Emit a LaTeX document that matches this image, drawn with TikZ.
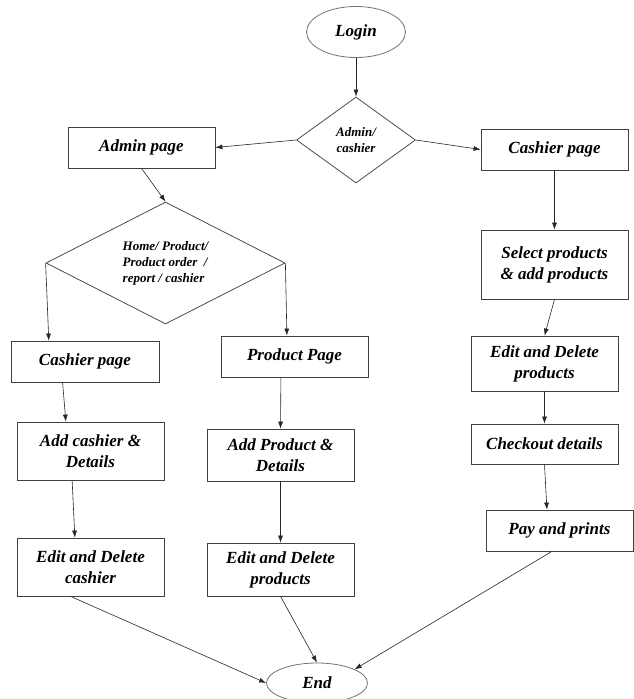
\documentclass[tikz,border=0pt]{standalone}
\usepackage{fontspec}
\setmainfont{Liberation Serif}
\usetikzlibrary{shapes.geometric,arrows.meta}

\begin{document}
\begin{tikzpicture}[x=1pt, y=-1pt,
    box/.style={rectangle, draw=black!75, line width=0.8pt, minimum width=147pt, inner sep=0pt, align=center, font=\fontsize{17}{21}\selectfont\bfseries\itshape},
    oval/.style={ellipse, draw=black!55, line width=0.8pt, inner sep=0pt, font=\fontsize{17}{21}\selectfont\bfseries\itshape},
    choice/.style={diamond, draw=black!70, line width=0.8pt, inner sep=0pt, align=left, font=\fontsize{13}{16}\selectfont\bfseries\itshape},
    flow/.style={draw=black!85, line width=0.6pt, -{Latex[length=7pt,width=5pt]}}]
    \useasboundingbox (0,0) rectangle (634,699);

    \node (login) at (356, 32) [oval, minimum width=99pt, minimum height=51pt] {Login};
    \node (role) at (356, 140) [choice, shape aspect=1.4, minimum width=119pt, minimum height=86pt, align=center] {Admin/\\cashier};
    \node (admin) at (141.5, 147.5) [box, minimum height=41pt] {Admin page};
    \node (cash) at (554.5, 149.5) [box, minimum height=41pt] {Cashier page};
    \node (menu) at (165.5, 263) [choice, shape aspect=2, minimum width=239pt, minimum height=122pt] {Home/ Product/\\Product order\ \ /\\report / cashier};
    \node (select) at (554.5, 264.5) [box, minimum height=69pt] {Select products\\\& add products};
    \node (cpage) at (85, 361.5) [box, minimum width=148pt, minimum height=41pt] {Cashier page};
    \node (ppage) at (294.5, 356.5) [box, minimum height=41pt] {Product Page};
    \node (editr) at (544.5, 363.5) [box, minimum height=55pt] {Edit and Delete\\products};
    \node (addc) at (90.5, 451) [box, minimum height=58pt] {Add cashier \&\\Details};
    \node (addp) at (280.5, 455) [box, minimum height=52pt] {Add Product \&\\Details};
    \node (checkout) at (544.5, 444) [box, minimum height=40pt] {Checkout details};
    \node (editc) at (90.5, 567) [box, minimum height=58pt] {Edit and Delete\\cashier};
    \node (editp) at (280.5, 569.5) [box, minimum height=53pt] {Edit and Delete\\products};
    \node (pay) at (559.5, 530.5) [box, minimum height=41pt] {Pay and prints};
    \node (finish) at (317, 683) [oval, minimum width=101pt, minimum height=40pt] {End};

    \draw[flow] (login) -- (role);
    \draw[flow] (role.west) -- (admin.east);
    \draw[flow] (role.east) -- (cash.west);
    \draw[flow] (admin.south) -- (menu.north);
    \draw[flow] (cash.south) -- (select.north);
    \draw[flow] (menu.west) -- (cpage.150);
    \draw[flow] (menu.east) -- (ppage.110);
    \draw[flow] (select.south) -- (editr.north);
    \draw[flow] (cpage.223) -- (addc.130);
    \draw[flow] (addc.238) -- (editc.118);
    \draw[flow] (ppage.237) -- (addp.north);
    \draw[flow] (addp.south) -- (editp.north);
    \draw[flow] (editr.south) -- (checkout.north);
    \draw[flow] (checkout.south) -- (pay.121);
    \draw[flow] (editc.236) -- (finish.west);
    \draw[flow] (editp.south) -- (finish.north);
    \draw[flow] (pay.250) -- (finish.20);
\end{tikzpicture}
\end{document}
